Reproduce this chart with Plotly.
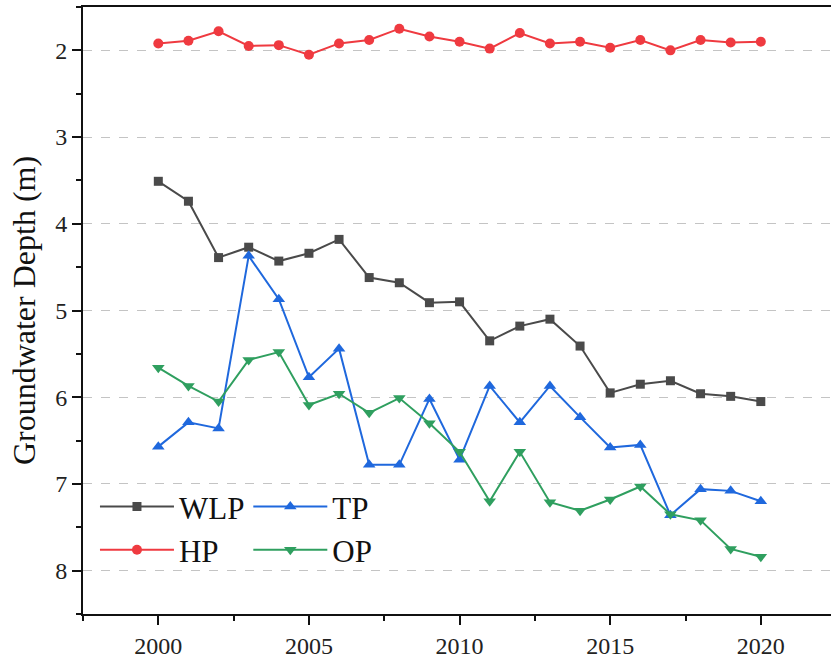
import plotly.graph_objects as go

# Annual mean groundwater depth (m) for four zones, 2000-2020
years = list(range(2000, 2021))

wlp = [3.51, 3.74, 4.39, 4.27, 4.43, 4.34, 4.18, 4.62, 4.68, 4.91, 4.90,
       5.35, 5.18, 5.10, 5.41, 5.95, 5.85, 5.81, 5.96, 5.99, 6.05]
hp = [1.92, 1.89, 1.78, 1.95, 1.94, 2.05, 1.92, 1.88, 1.75, 1.84, 1.90,
      1.98, 1.80, 1.92, 1.90, 1.97, 1.88, 2.00, 1.88, 1.91, 1.90]
tp = [6.57, 6.29, 6.36, 4.37, 4.87, 5.77, 5.44, 6.78, 6.78, 6.02, 6.72,
      5.87, 6.29, 5.87, 6.23, 6.58, 6.55, 7.36, 7.06, 7.08, 7.20]
op = [5.66, 5.87, 6.05, 5.57, 5.48, 6.09, 5.96, 6.18, 6.01, 6.30, 6.63,
      7.20, 6.63, 7.21, 7.31, 7.18, 7.03, 7.35, 7.42, 7.75, 7.84]

x_ticks = [2000, 2005, 2010, 2015, 2020]
y_ticks = [2, 3, 4, 5, 6, 7, 8]

FONT = "Liberation Serif, Times New Roman, serif"

series = [
    # name, values, color, symbol, size, legend
    ("WLP", wlp, "#4a4a4a", "square", 9, "legend"),
    ("HP", hp, "#ef3a40", "circle", 10, "legend"),
    ("TP", tp, "#1f68dd", "triangle-up", 11, "legend2"),
    ("OP", op, "#2f9f5f", "triangle-down", 11, "legend2"),
]

fig = go.Figure()
for name, vals, color, symbol, size, leg in series:
    fig.add_trace(go.Scatter(
        x=years, y=vals, name=name, mode="lines+markers",
        line=dict(color=color, width=2),
        marker=dict(color=color, symbol=symbol, size=size),
        legend=leg,
    ))

legend_common = dict(
    orientation="v", yanchor="top", xanchor="left",
    bgcolor="rgba(0,0,0,0)", borderwidth=0,
    font=dict(family=FONT, size=31, color="#111"),
    itemwidth=74, tracegroupgap=0,
)

fig.update_layout(
    width=831, height=660,
    margin=dict(l=83, r=0, t=7, b=46),
    paper_bgcolor="white", plot_bgcolor="white",
    font=dict(family=FONT, color="#222"),
    showlegend=True,
    legend=dict(x=0.016, y=0.221, **legend_common),
    legend2=dict(x=0.221, y=0.221, **legend_common),
    xaxis=dict(
        range=[1997.5, 2022.33],
        tickmode="array", tickvals=x_ticks,
        ticks="outside", ticklen=9, tickwidth=2, tickcolor="#111",
        minor=dict(dtick=2.5, tick0=1997.5, ticks="outside", ticklen=5,
                   tickwidth=2, tickcolor="#111", showgrid=False),
        showline=True, linecolor="#111", linewidth=2, mirror=True,
        showgrid=False, zeroline=False,
        tickfont=dict(family=FONT, size=24, color="#222"),
    ),
    yaxis=dict(
        range=[8.5, 1.5],
        tickmode="array", tickvals=y_ticks,
        ticks="outside", ticklen=9, tickwidth=2, tickcolor="#111",
        minor=dict(dtick=0.5, tick0=1.5, ticks="outside", ticklen=5,
                   tickwidth=2, tickcolor="#111", showgrid=False),
        showline=True, linecolor="#111", linewidth=2,
        showgrid=True, gridcolor="#c4c4c4", gridwidth=1, griddash="dash",
        zeroline=False,
        tickfont=dict(family=FONT, size=24, color="#222"),
        title=dict(text="Groundwater Depth (m)",
                   font=dict(family=FONT, size=32, color="#111"),
                   standoff=10),
    ),
)

fig.write_html("out.html")
